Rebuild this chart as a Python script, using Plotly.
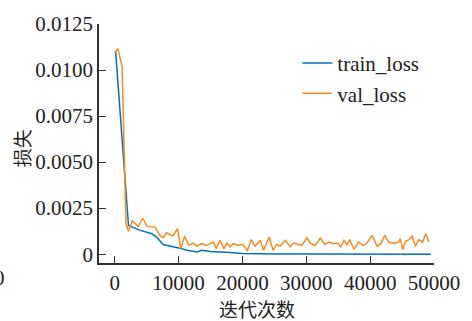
import plotly.graph_objects as go

train_iter = [150, 2170, 3800, 5800, 6560, 7580, 10000, 11360, 12900, 13600, 15000, 16700, 17400, 20000, 22500, 25000, 30000, 35000, 40000, 45000, 49500]
train_loss = [0.0110, 0.00156, 0.00132, 0.00111, 0.00093, 0.00052, 0.00034, 0.00021, 0.00012, 0.00021, 0.00014, 0.00009, 0.00010, 0.00004, 0.00002, 0.00001, 0.000005, 0.000003, 0.000002, 0.000001, 0.0]

val_iter = [0, 500, 1170, 1770, 2170, 2770, 3680, 4390, 5050, 5600, 6320, 7080, 7580, 8080, 9090, 9850, 10350, 10950,
            11600, 12300, 12900, 13600, 14400, 15500, 15900, 16500, 17100, 17600, 18100, 18600, 19300, 20000, 20800,
            21400, 22000, 22800, 23300, 24200, 24800, 25400, 25900, 26700, 27500, 28000, 28500, 29300, 30100, 30600,
            31400, 32200, 32900, 33600, 34300, 34900, 35400, 35900, 36400, 36800, 37100, 37500, 38200, 38900, 39500,
            40300, 41100, 41600, 42300, 42900, 43700, 44500, 44700, 45100, 45600, 46100, 46600, 47100, 47600, 48200,
            48700, 49200]
val_loss = [0.01094, 0.01116, 0.0102, 0.00165, 0.00125, 0.00182, 0.0015, 0.00195, 0.00152, 0.0015, 0.00147, 0.00102, 0.0009, 0.00116, 0.00098, 0.00138, 0.0003, 0.00097,
            0.00048, 0.0006, 0.00043, 0.00057, 0.00048, 0.00066, 0.0003, 0.00075, 0.0003, 0.0006, 0.0004, 0.00057, 0.00048, 0.00052, 0.00021,
            0.00079, 0.00043, 0.00075, 0.00021, 0.00093, 0.00021, 0.00054, 0.00043, 0.00075, 0.0004, 0.0006, 0.00057, 0.00048, 0.0009, 0.0006,
            0.00047, 0.00088, 0.00054, 0.00066, 0.00057, 0.0006, 0.0004, 0.00075, 0.00052, 0.00079, 0.00054, 0.00027, 0.00066, 0.00048, 0.0006,
            0.00102, 0.00043, 0.00054, 0.00102, 0.00066, 0.0006, 0.00066, 0.00084, 0.00025, 0.00071, 0.00079, 0.00097, 0.00043, 0.00079, 0.00066,
            0.00111, 0.00066]

x_ticks = [0, 10000, 20000, 30000, 40000, 50000]
x_ticktext = ["0", "10000", "20000", "30000", "40000", "50000"]
y_ticks = [0, 0.0025, 0.005, 0.0075, 0.01, 0.0125]
y_ticktext = ["0", "0.0025", "0.0050", "0.0075", "0.0100", "0.0125"]

serif = "Liberation Serif, Times New Roman, serif"
cjk = "Noto Sans CJK SC"

fig = go.Figure()
fig.add_trace(go.Scatter(x=train_iter, y=train_loss, mode="lines", name="train_loss",
                         line=dict(color="#0072BD", width=1.5)))
fig.add_trace(go.Scatter(x=val_iter, y=val_loss, mode="lines", name="val_loss",
                         line=dict(color="#F88A22", width=1.5)))

axis_common = dict(showgrid=False, zeroline=False, showline=True, linecolor="#333333", linewidth=1.5,
                   ticks="inside", ticklen=7, tickwidth=1.2, tickcolor="#333333",
                   tickfont=dict(family=serif, size=21, color="#222222"))

fig.update_layout(
    width=472, height=321,
    margin=dict(l=99, r=27, t=21, b=58),
    paper_bgcolor="white", plot_bgcolor="white",
    xaxis=dict(range=[-2450, 50000], tickvals=x_ticks, ticktext=x_ticktext, **axis_common),
    yaxis=dict(range=[-0.00048, 0.0125], tickvals=y_ticks, ticktext=y_ticktext, **axis_common),
    legend=dict(x=0.592, y=0.921, xanchor="left", yanchor="top", bgcolor="rgba(0,0,0,0)",
                font=dict(family=serif, size=21, color="#222222"), tracegroupgap=0, itemwidth=30),
    showlegend=True,
    annotations=[
        dict(text="迭代次数", xref="paper", yref="paper", x=0.471, y=-0.19, showarrow=False,
             xanchor="center", yanchor="middle", font=dict(family=cjk, size=19, color="#222222")),
        dict(text="损失", xref="paper", yref="paper", x=-0.231, y=0.479, showarrow=False, textangle=-90,
             xanchor="center", yanchor="middle", font=dict(family=cjk, size=19, color="#222222")),
        dict(text="0", xref="paper", yref="paper", x=-0.296, y=-0.062, showarrow=False,
             xanchor="center", yanchor="middle", font=dict(family=serif, size=21, color="#222222")),
    ],
)

fig.write_html("out.html", config={"displayModeBar": False},
               post_script="document.body.style.margin='0';document.body.style.overflow='hidden';")
